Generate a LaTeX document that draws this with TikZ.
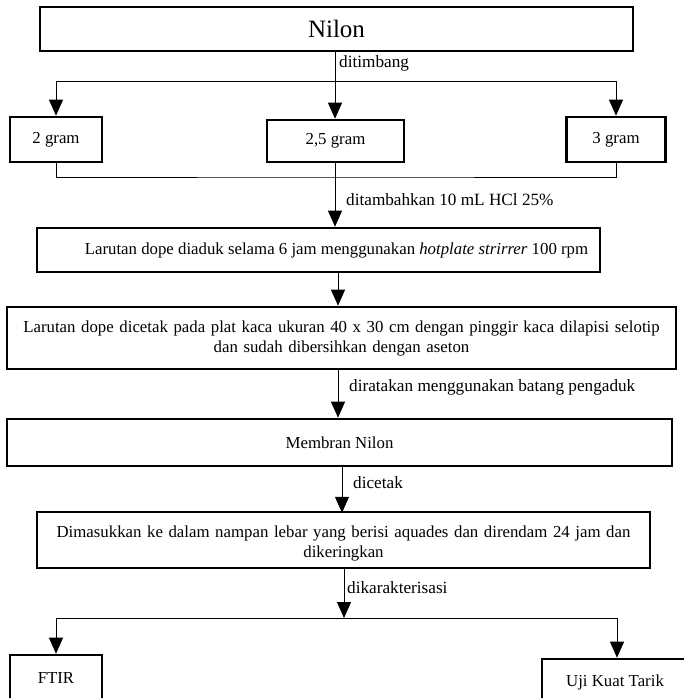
\documentclass[tikz,border=0pt]{standalone}
\usepackage{fontspec}
\setmainfont{Liberation Serif}
\usetikzlibrary{arrows.meta}
\tikzset{
    kotak/.style={draw,line width=2.6pt,inner sep=0pt,align=center,font=\fontsize{16.8}{20}\selectfont},
    teks/.style={inner sep=0pt,align=center,font=\fontsize{16.8}{20}\selectfont},
    panah/.style={line width=0.8pt,-{Triangle[length=16pt,width=14pt]}},
    garis/.style={line width=0.8pt},
    ket/.style={anchor=west,inner sep=0pt,font=\fontsize{17.2}{20}\selectfont}
}

\begin{document}
\begin{tikzpicture}[x=1pt,y=-1pt]
            \useasboundingbox (0,0) rectangle (684,698);
            % kotak-kotak
            \node[kotak,minimum width=593pt,minimum height=44pt,font=\fontsize{25}{28}\selectfont] (nilon) at (336.5,29) {Nilon};
            \node[kotak,minimum width=92pt,minimum height=45pt] (g2) at (56,139.5) {2 gram};
            \node[kotak,minimum width=137pt,minimum height=42pt] (g25) at (335.5,141) {2,5 gram};
            \node[kotak,minimum width=99pt,minimum height=45pt] (g3) at (616,139.5) {3 gram};
            \node[kotak,minimum width=563pt,minimum height=44pt] (aduk) at (318.5,250) {};
            \node[teks] (adukteks) at (336.5,250) {Larutan dope diaduk selama 6 jam menggunakan \textit{hotplate strirrer} 100 rpm};
            \node[kotak,minimum width=669pt,minimum height=62pt,text width=660pt] (cetak) at (341.5,338) {Larutan dope dicetak pada plat kaca ukuran 40 x 30 cm dengan pinggir kaca dilapisi selotip\\dan sudah dibersihkan dengan aseton};
            \node[kotak,minimum width=665pt,minimum height=47pt] (membran) at (339.5,442.5) {Membran Nilon};
            \node[kotak,minimum width=613pt,minimum height=56pt] (rendam) at (343.5,540) {};
            \node[teks,text width=600pt] (rendamteks) at (343.5,543) {Dimasukkan ke dalam nampan lebar yang berisi aquades dan direndam 24 jam dan\\dikeringkan};
            \node[kotak,minimum width=92pt,minimum height=46pt] (ftir) at (56,678) {FTIR};
            \node[kotak,minimum width=146pt,minimum height=46pt] (uji) at (615,682) {Uji Kuat Tarik};
            % titik cabang
            \coordinate (s1) at (335,81);
            \coordinate (s2) at (335,177);
            \coordinate (s3) at (338,0);
            \coordinate (s4) at (344,618);
            \coordinate (s5) at (617,0);
            % garis penghubung
            \draw[garis] (nilon.south -| s1) -- (s1);
            \draw[panah] (s1) -| (g2.north);
            \draw[panah] (s1) -- (s1 |- g25.north);
            \draw[panah] (s1) -| (g3.north);
            \node[ket] (l1) at (339,63) {ditimbang};
            \draw[garis] (g2.south) |- (s2) -| (g3.south);
            \draw[garis] (g25.south -| s2) -- (s2);
            \draw[panah] (s2) -- (s2 |- aduk.north);
            \node[ket] (l2) at (346,200) {ditambahkan 10 mL HCl 25\%};
            \draw[panah] (aduk.south -| s3) -- (cetak.north -| s3);
            \draw[panah] (cetak.south -| s3) -- (membran.north -| s3);
            \node[ket] (l3) at (349,387) {diratakan menggunakan batang pengaduk};
            \draw[panah] (membran.south -| rendam.north) ++(-1.5,0) -- ++(0,45.5);
            \node[ket] (l4) at (353,483) {dicetak};
            \draw[panah] (rendam.south -| s4) -- (s4);
            \node[ket] (l5) at (347,588) {dikarakterisasi};
            \draw[panah] (s4) -| (ftir.north);
            \draw[panah] (s4) -| (s5 |- uji.north);
        \end{tikzpicture}
\end{document}
